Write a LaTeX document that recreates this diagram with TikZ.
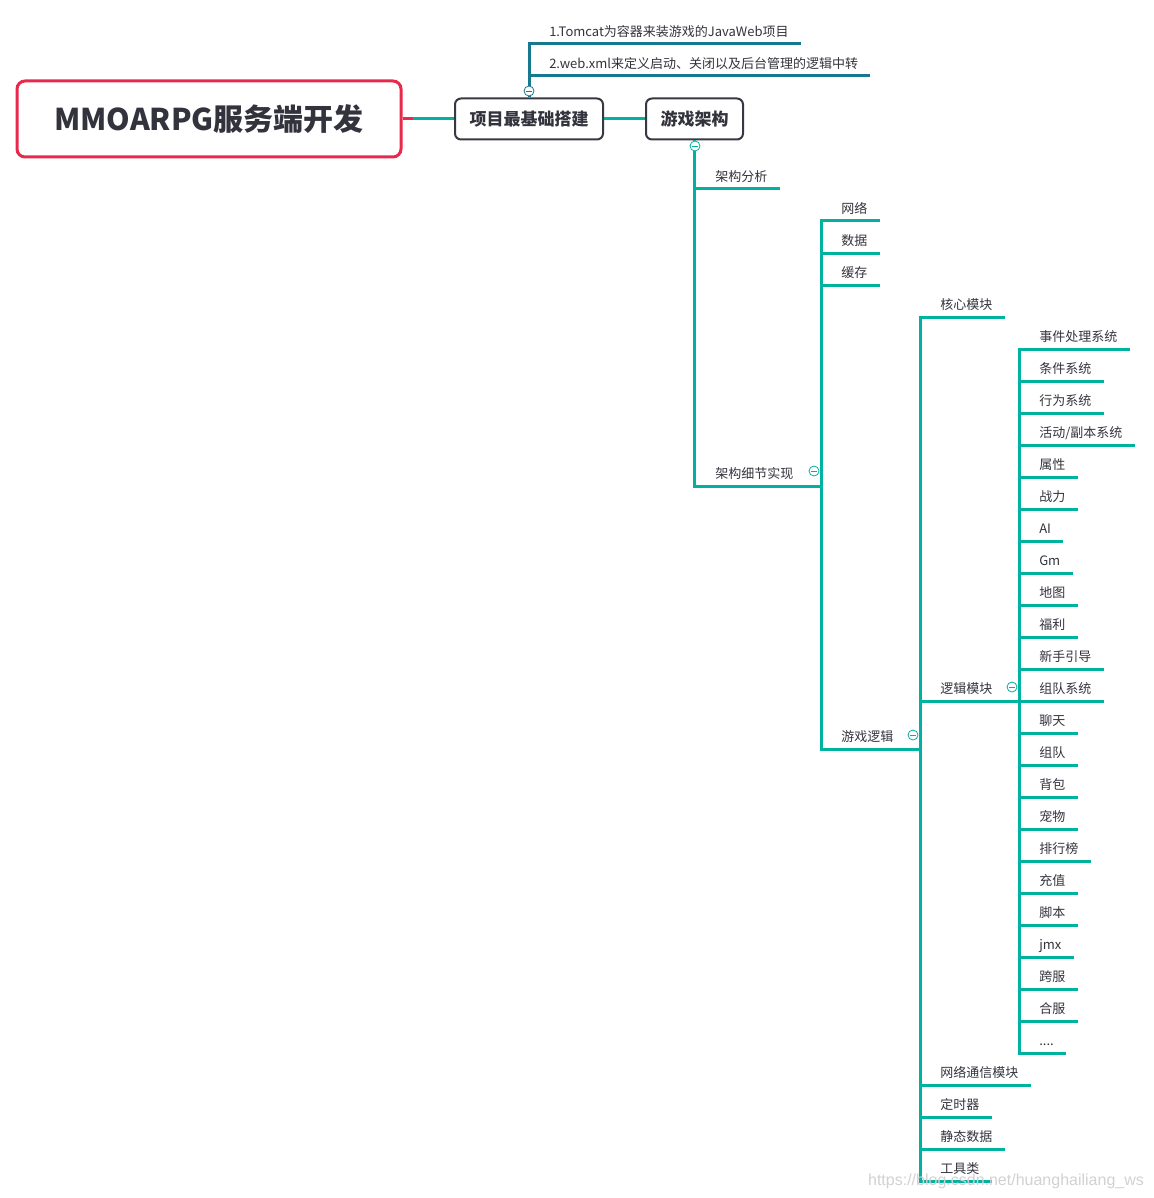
\documentclass[tikz,border=0pt]{standalone}
\usepackage{fontspec}
\setmainfont{Noto Sans CJK SC}
\newfontfamily\wmfont{Liberation Sans}
\definecolor{mmred}{HTML}{E8294B}
\definecolor{mmbox}{HTML}{383844}
\definecolor{mmteal}{HTML}{00B2A0}
\definecolor{mmblue}{HTML}{16798F}
\definecolor{mmtext}{HTML}{33333D}
\newcommand\mmdots{....}

\begin{document}
\begin{tikzpicture}[x=0.75pt,y=-0.75pt,
root/.style={draw=mmred,line width=2.25pt,rounded corners=6pt,minimum width=288pt,
minimum height=57pt,font=\fontsize{22.5}{25}\selectfont\bfseries,text=mmtext},
topic/.style={draw=mmbox,line width=1.5pt,rounded corners=4.5pt,minimum height=30.75pt,
font=\fontsize{12.75}{15}\selectfont\bfseries,text=mmtext},
leaf/.style={anchor=south west,inner xsep=9pt,inner ysep=0pt,text depth=5.5pt,
font=\fontsize{9.75}{12}\selectfont,text=mmtext},
branch/.style={draw=mmteal,line width=2.25pt},
fold/.style={circle,draw=#1,fill=white,line width=0.6pt,minimum size=7.5pt,inner sep=0pt,
path picture={\draw[#1,line width=0.6pt] ([xshift=-2.2pt]path picture bounding box.center)
--([xshift=2.2pt]path picture bounding box.center);}},fold/.default=mmteal]
\useasboundingbox (0,0) rectangle (1153,1198);
% central topic and the two main topics
\node[root] (root) at (209,119) {MMOARPG服务端开发};
\node[topic,minimum width=111pt] (base) at (529,119) {项目最基础搭建};
\node[topic,minimum width=72.75pt] (arch) at (694.5,119) {游戏架构};
\draw[branch] (root.east)--(base.west);
\draw[mmred,line width=2.25pt] (root.east)--++(10,0);
\draw[branch] (base.east)--(arch.west);
% first topic: project setup
\node[leaf] (tomcat) at (537,44) {1.Tomcat为容器来装游戏的JavaWeb项目};
\node[leaf] (webxml) at (537,76) {2.web.xml来定义启动、关闭以及后台管理的逻辑中转};
\draw[mmblue,line width=2.25pt] (base.north) |- (tomcat.south east);
\draw[mmblue,line width=2.25pt] (base.north) |- (webxml.south east);
% second topic: architecture
\node[leaf] (analysis) at (703,189) {架构分析};
\node[leaf] (detail) at (703,486) {架构细节实现};
\coordinate (jdetail) at (821,486);
\draw[branch] (arch.south) |- (analysis.south east);
\draw[branch] (arch.south) |- (jdetail);
\node[leaf] (net) at (829,221) {网络};
\node[leaf] (data) at (829,253) {数据};
\node[leaf] (cache) at (829,285) {缓存};
\node[leaf] (logic) at (829,749) {游戏逻辑};
\coordinate (jlogic) at (920,749);
\draw[branch] (jdetail) |- (net.south east);
\draw[branch] (jdetail) |- (data.south east);
\draw[branch] (jdetail) |- (cache.south east);
\draw[branch] (jdetail) |- (jlogic);
\node[leaf] (core) at (928,317) {核心模块};
\node[leaf] (module) at (928,701) {逻辑模块};
\node[leaf] (comm) at (928,1085) {网络通信模块};
\node[leaf] (timer) at (928,1117) {定时器};
\node[leaf] (static) at (928,1149) {静态数据};
\node[leaf] (tools) at (928,1181) {工具类};
\coordinate (jmodule) at (1019,701);
\draw[branch] (jlogic) |- (core.south east);
\draw[branch] (jlogic) |- (jmodule);
\draw[branch] (jlogic) |- (comm.south east);
\draw[branch] (jlogic) |- (timer.south east);
\draw[branch] (jlogic) |- (static.south east);
\draw[branch] (jlogic) |- (tools.south east);
% logic module systems
\foreach \t [count=\i from 0] in {事件处理系统,条件系统,行为系统,活动/副本系统,属性,战力,AI,Gm,
地图,福利,新手引导,组队系统,聊天,组队,背包,宠物,排行榜,充值,脚本,jmx,跨服,合服,\mmdots}{
\node[leaf] (sys\i) at (1027,349+32*\i) {\t};
\draw[branch] (jmodule) |- (sys\i.south east);
}
% collapse marks
\node[fold=mmblue] (fbase) at (529,91) {};
\node[fold] (farch) at (695,146) {};
\node[fold] (fdetail) at (814,471) {};
\node[fold] (flogic) at (913,735) {};
\node[fold] (fmodule) at (1012,687) {};
\node[font=\wmfont\fontsize{12}{14}\selectfont,text=black!18] (mark) at (1006,1181)
{https://blog.csdn.net/huanghailiang\_ws};
\end{tikzpicture}
\end{document}
